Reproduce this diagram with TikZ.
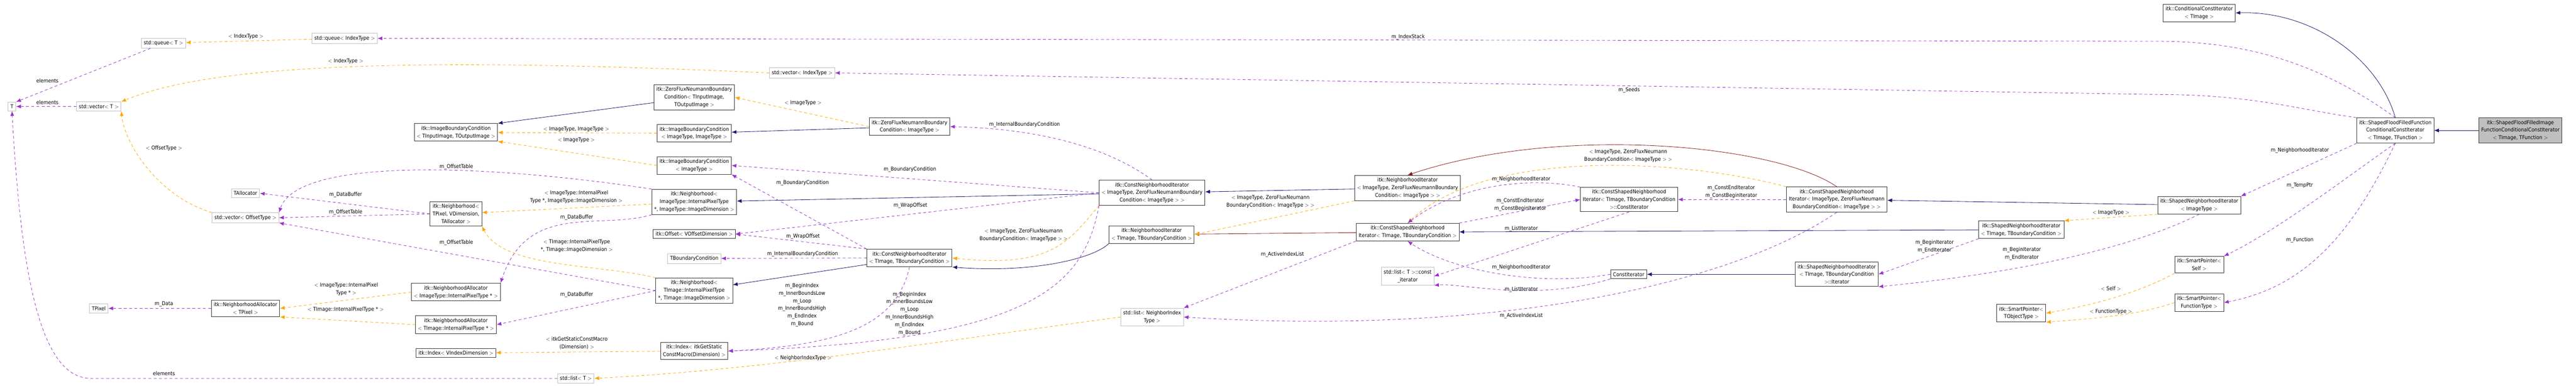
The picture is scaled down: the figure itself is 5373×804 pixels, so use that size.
\documentclass[tikz,border=0pt]{standalone}
\usepackage{fontspec}
\setmainfont{DejaVu Sans Condensed}
\usetikzlibrary{arrows.meta,positioning}
\definecolor{inhblue}{RGB}{25,25,112}
\definecolor{privred}{RGB}{139,26,26}
\definecolor{usepurple}{RGB}{154,50,205}
\definecolor{tmplorange}{RGB}{255,165,0}
\tikzset{
  cls/.style={draw=black!80, line width=1pt, fill=white, align=center, inner sep=5pt,
    font=\fontsize{11}{16}\selectfont},
  ext/.style={cls, draw=black!25},
  cur/.style={cls, fill=black!25},
  lbl/.style={align=center, inner sep=1pt, font=\fontsize{11}{16}\selectfont},
  pub/.style={draw=inhblue, line width=0.9pt, -{Latex[length=10pt,width=8pt]}},
  priv/.style={draw=privred, line width=0.9pt, -{Latex[length=10pt,width=8pt]}},
  use/.style={draw=usepurple, line width=0.9pt, dash pattern=on 6pt off 5pt, -{Latex[length=10pt,width=8pt]}},
  tmpl/.style={draw=tmplorange, line width=0.9pt, dash pattern=on 6pt off 5pt, -{Latex[length=10pt,width=8pt]}}
}
\begin{document}
\begin{tikzpicture}[x=1pt, y=-1pt]
\useasboundingbox (0,0) rectangle (5373,804);

% std containers and template parameters
\node[ext] (T) at (25,222) {T};
\node[ext] (queueT) at (341,90) {std::queue$<$ T $>$};
\node[ext] (queueIdx) at (719,80) {std::queue$<$ IndexType $>$};
\node[ext] (vecT) at (206,222) {std::vector$<$ T $>$};
\node[ext] (vecIdx) at (1673,152) {std::vector$<$ IndexType $>$};
\node[ext] (tAlloc) at (512,403) {TAllocator};
\node[ext] (vecOff) at (512,454) {std::vector$<$ OffsetType $>$};
\node[ext] (tPixel) at (206,643) {TPixel};
\node[ext] (listT) at (1201,789) {std::list$<$ T $>$};
\node[ext] (tBC) at (1448,539) {TBoundaryCondition};
\node[ext] (listNIT) at (2403,661) {std::list$<$ NeighborIndex\\Type $>$};
\node[ext] (listCI) at (2936,576) {std::list$<$ T $>$::const\\\_iterator};

% neighborhoods and allocators
\node[cls] (nAllocPix) at (512,643) {itk::NeighborhoodAllocator\\$<$ TPixel $>$};
\node[cls] (nbhPix) at (951,446) {itk::Neighborhood$<$\\TPixel, VDimension,\\TAllocator $>$};
\node[cls] (nAllocImg) at (951,609) {itk::NeighborhoodAllocator\\$<$ ImageType::InternalPixelType * $>$};
\node[cls] (nAllocTImg) at (951,677) {itk::NeighborhoodAllocator\\$<$ TImage::InternalPixelType * $>$};
\node[cls] (idxV) at (951,736) {itk::Index$<$ VIndexDimension $>$};
\node[cls] (ibcTIO) at (951,276) {itk::ImageBoundaryCondition\\$<$ TInputImage, TOutputImage $>$};
\node[cls] (zfTIO) at (1448,203) {itk::ZeroFluxNeumannBoundary\\Condition$<$ TInputImage,\\TOutputImage $>$};
\node[cls] (ibcII) at (1448,278) {itk::ImageBoundaryCondition\\$<$ ImageType, ImageType $>$};
\node[cls] (ibcI) at (1448,345) {itk::ImageBoundaryCondition\\$<$ ImageType $>$};
\node[cls] (nbhImg) at (1448,421) {itk::Neighborhood$<$\\ImageType::InternalPixelType\\*, ImageType::ImageDimension $>$};
\node[cls] (offset) at (1448,488) {itk::Offset$<$ VOffsetDimension $>$};
\node[cls] (nbhTImg) at (1448,606) {itk::Neighborhood$<$\\TImage::InternalPixelType\\*, TImage::ImageDimension $>$};
\node[cls] (idxGSCM) at (1448,732) {itk::Index$<$ itkGetStatic\\ConstMacro(Dimension) $>$};

% iterators
\node[cls] (zfI) at (1897,264) {itk::ZeroFluxNeumannBoundary\\Condition$<$ ImageType $>$};
\node[cls] (cniT) at (1897,538) {itk::ConstNeighborhoodIterator\\$<$ TImage, TBoundaryCondition $>$};
\node[cls] (cniI) at (2403,402) {itk::ConstNeighborhoodIterator\\$<$ ImageType, ZeroFluxNeumannBoundary\\Condition$<$ ImageType $>$ $>$};
\node[cls] (niT) at (2402,489) {itk::NeighborhoodIterator\\$<$ TImage, TBoundaryCondition $>$};
\node[cls] (niI) at (2936,392) {itk::NeighborhoodIterator\\$<$ ImageType, ZeroFluxNeumannBoundary\\Condition$<$ ImageType $>$ $>$};
\node[cls] (csniT) at (2936,484) {itk::ConstShapedNeighborhood\\Iterator$<$ TImage, TBoundaryCondition $>$};
\node[cls] (csniCI) at (3398,416) {itk::ConstShapedNeighborhood\\Iterator$<$ TImage, TBoundaryCondition\\$>$::ConstIterator};
\node[cls] (constIt) at (3397,572) {ConstIterator};
\node[cls] (csniI) at (3831,416) {itk::ConstShapedNeighborhood\\Iterator$<$ ImageType, ZeroFluxNeumann\\BoundaryCondition$<$ ImageType $>$ $>$};
\node[cls] (sniIt) at (3831,572) {itk::ShapedNeighborhoodIterator\\$<$ TImage, TBoundaryCondition\\$>$::Iterator};
\node[cls] (sniT) at (4216,479) {itk::ShapedNeighborhoodIterator\\$<$ TImage, TBoundaryCondition $>$};
\node[cls] (spT) at (4216,653) {itk::SmartPointer$<$\\TObjectType $>$};
\node[cls] (cci) at (4587,27) {itk::ConditionalConstIterator\\$<$ TImage $>$};
\node[cls] (sniI) at (4587,428) {itk::ShapedNeighborhoodIterator\\$<$ ImageType $>$};
\node[cls] (spSelf) at (4587,552) {itk::SmartPointer$<$\\Self $>$};
\node[cls] (spFunc) at (4587,631) {itk::SmartPointer$<$\\FunctionType $>$};
\node[cls] (sfff) at (4996,272) {itk::ShapedFloodFilledFunction\\ConditionalConstIterator\\$<$ TImage, TFunction $>$};
\node[cur] (main) at (5257,272) {itk::ShapedFloodFilledImage\\FunctionConditionalConstIterator\\$<$ TImage, TFunction $>$};

% inheritance
\draw[pub] (main) -- (sfff);
\draw[pub] (sfff.north) .. controls (4960,120) and (4820,22) .. (cci.east);
\draw[pub] (zfTIO) -- (ibcTIO.north east);
\draw[pub] (zfI) -- (ibcII);
\draw[pub] (cniI) -- (nbhImg);
\draw[pub] (cniT) -- (nbhTImg);
\draw[pub] (niI) -- (cniI);
\draw[pub] (niT.south west) .. controls (2280,540) and (2150,570) .. (cniT.south east);
\draw[pub] (sniT) -- (csniT);
\draw[pub] (sniI) -- (csniI);
\draw[pub] (sniIt) -- (constIt);
\draw[priv] (csniT) -- (niT);
\draw[priv] (csniI.north) .. controls (3700,300) and (3250,260) .. (niI.north);

% template instantiation
\draw[tmpl] (queueIdx) -- (queueT);
\draw[tmpl] (vecIdx.west) .. controls (900,120) and (450,130) .. (vecT.north east);
\draw[tmpl] (vecOff.north west) .. controls (330,410) and (260,300) .. (vecT.south east);
\draw[tmpl] (nAllocImg.west) -- (nAllocPix.east);
\draw[tmpl] (nAllocTImg.west) -- (nAllocPix.south east);
\draw[tmpl] (nbhImg) -- (nbhPix);
\draw[tmpl] (nbhTImg.north west) .. controls (1250,550) and (1050,560) .. (nbhPix.south east);
\draw[tmpl] (idxGSCM) -- (idxV);
\draw[tmpl] (ibcII) -- (ibcTIO);
\draw[tmpl] (ibcI.west) -- (ibcTIO.south east);
\draw[tmpl] (zfI.west) -- (zfTIO.east);
\draw[tmpl] (cniI.south west) .. controls (2230,500) and (2200,560) .. (cniT.east);
\draw[tmpl] (niI.south west) -- (niT.east);
\draw[tmpl] (csniI.north west) .. controls (3500,330) and (3100,310) .. (csniT.north);
\draw[tmpl] (listNIT.west) .. controls (1900,720) and (1600,770) .. (listT.east);
\draw[tmpl] (sniI.south west) -- (sniT.north east);
\draw[tmpl] (spSelf.south west) .. controls (4480,600) and (4400,630) .. (spT.east);
\draw[tmpl] (spFunc.west) .. controls (4450,660) and (4350,665) .. (spT.south east);

% members
\draw[use] (queueT) -- (T.north east);
\draw[use] (vecT) -- (T);
\draw[use] (listT.west) -- (190,789) .. controls (90,789) and (45,600) .. (T.south);
\draw[use] (nbhPix.west) -- (tAlloc.east);
\draw[use] (nbhPix.west) -- (vecOff.east);
\draw[use] (nbhImg.north west) .. controls (1000,340) and (620,330) .. (vecOff.north east);
\draw[use] (nbhTImg.west) -- (vecOff.south east);
\draw[use] (nAllocPix) -- (tPixel);
\draw[use] (nbhImg.south west) .. controls (1250,480) and (1100,420) .. (nAllocImg.north east);
\draw[use] (nbhTImg.west) -- (nAllocTImg.east);
\draw[use] (cniI.west) -- (ibcI.east);
\draw[use] (cniT.north west) -- (ibcI.south east);
\draw[use] (cniI.west) -- (offset.east);
\draw[use] (cniT.north west) -- (offset.east);
\draw[use] (cniT.west) -- (tBC);
\draw[use] (cniI.north) .. controls (2300,300) and (2150,268) .. (zfI.east);
\draw[use] (cniT.south) .. controls (1870,680) and (1750,720) .. (idxGSCM.east);
\draw[use] (cniI.south west) .. controls (2260,600) and (2150,710) .. (idxGSCM.east);
\draw[use] (csniCI.north west) .. controls (3200,370) and (3050,380) .. (csniT.north);
\draw[use] (csniT.north east) -- (csniCI.west);
\draw[use] (csniI) -- (csniCI);
\draw[use] (csniCI.south) -- (listCI.east);
\draw[use] (constIt.west) .. controls (3200,600) and (3020,560) .. (csniT.south);
\draw[use] (constIt.south west) .. controls (3200,630) and (3050,590) .. (listCI.south east);
\draw[use] (csniT.south west) -- (listNIT.north east);
\draw[use] (csniI.south) .. controls (3600,600) and (3100,700) .. (listNIT.east);
\draw[use] (sniT.south west) -- (sniIt.east);
\draw[use] (sniI.south) .. controls (4400,540) and (4100,580) .. (sniIt.south east);
\draw[use] (sfff.north) .. controls (4850,140) and (4700,86) .. (4500,86) -- (queueIdx.east);
\draw[use] (sfff.north west) .. controls (4800,230) and (4700,197) .. (4500,197) -- (vecIdx.east);
\draw[use] (sfff.south west) -- (sniI.north east);
\draw[use] (sfff.south) .. controls (4880,380) and (4750,480) .. (spSelf.north east);
\draw[use] (sfff.south) .. controls (4900,500) and (4800,600) .. (spFunc.east);

% edge labels
\node[lbl] at (99,168) {elements};
\node[lbl] at (99,213) {elements};
\node[lbl] at (342,779) {elements};
\node[lbl] at (513,76) {$<$ IndexType $>$};
\node[lbl] at (721,128) {$<$ IndexType $>$};
\node[lbl] at (342,309) {$<$ OffsetType $>$};
\node[lbl] at (721,406) {m\_DataBuffer};
\node[lbl] at (721,442) {m\_OffsetTable};
\node[lbl] at (722,603) {$<$ ImageType::InternalPixel\\Type * $>$};
\node[lbl] at (721,646) {$<$ TImage::InternalPixelType * $>$};
\node[lbl] at (342,634) {m\_Data};
\node[lbl] at (1675,215) {$<$ ImageType $>$};
\node[lbl] at (1202,270) {$<$ ImageType, ImageType $>$};
\node[lbl] at (1202,292) {$<$ ImageType $>$};
\node[lbl] at (952,348) {m\_OffsetTable};
\node[lbl] at (1202,411) {$<$ ImageType::InternalPixel\\Type *, ImageType::ImageDimension $>$};
\node[lbl] at (1203,453) {m\_DataBuffer};
\node[lbl] at (1203,513) {$<$ TImage::InternalPixelType\\*, TImage::ImageDimension $>$};
\node[lbl] at (952,506) {m\_OffsetTable};
\node[lbl] at (1203,615) {m\_DataBuffer};
\node[lbl] at (1203,715) {$<$ itkGetStaticConstMacro\\(Dimension) $>$};
\node[lbl] at (1674,381) {m\_BoundaryCondition};
\node[lbl] at (1675,493) {m\_WrapOffset};
\node[lbl] at (1674,530) {m\_InternalBoundaryCondition};
\node[lbl] at (1673,636) {m\_BeginIndex\\m\_InnerBoundsLow\\m\_Loop\\m\_InnerBoundsHigh\\m\_EndIndex\\m\_Bound};
\node[lbl] at (1675,747) {$<$ NeighborIndexType $>$};
\node[lbl] at (2137,260) {m\_InternalBoundaryCondition};
\node[lbl] at (1898,353) {m\_BoundaryCondition};
\node[lbl] at (1899,429) {m\_WrapOffset};
\node[lbl] at (2135,490) {$<$ ImageType, ZeroFluxNeumann\\BoundaryCondition$<$ ImageType $>$ $>$};
\node[lbl] at (1897,654) {m\_BeginIndex\\m\_InnerBoundsLow\\m\_Loop\\m\_InnerBoundsHigh\\m\_EndIndex\\m\_Bound};
\node[lbl] at (2650,420) {$<$ ImageType, ZeroFluxNeumann\\BoundaryCondition$<$ ImageType $>$ $>$};
\node[lbl] at (2675,531) {m\_ActiveIndexList};
\node[lbl] at (2937,77) {m\_IndexStack};
\node[lbl] at (3398,188) {m\_Seeds};
\node[lbl] at (3396,325) {$<$ ImageType, ZeroFluxNeumann\\BoundaryCondition$<$ ImageType $>$ $>$};
\node[lbl] at (3173,374) {m\_NeighborhoodIterator};
\node[lbl] at (3171,427) {m\_ConstEndIterator\\m\_ConstBeginIterator};
\node[lbl] at (3173,477) {m\_ListIterator};
\node[lbl] at (3173,557) {m\_NeighborhoodIterator};
\node[lbl] at (3173,604) {m\_ListIterator};
\node[lbl] at (3173,658) {m\_ActiveIndexList};
\node[lbl] at (3611,400) {m\_ConstEndIterator\\m\_ConstBeginIterator};
\node[lbl] at (4403,444) {$<$ ImageType $>$};
\node[lbl] at (4035,514) {m\_BeginIterator\\m\_EndIterator};
\node[lbl] at (4217,529) {m\_BeginIterator\\m\_EndIterator};
\node[lbl] at (4403,602) {$<$ Self $>$};
\node[lbl] at (4403,650) {$<$ FunctionType $>$};
\node[lbl] at (4797,314) {m\_NeighborhoodIterator};
\node[lbl] at (4797,387) {m\_TempPtr};
\node[lbl] at (4797,501) {m\_Function};

\end{tikzpicture}
\end{document}
